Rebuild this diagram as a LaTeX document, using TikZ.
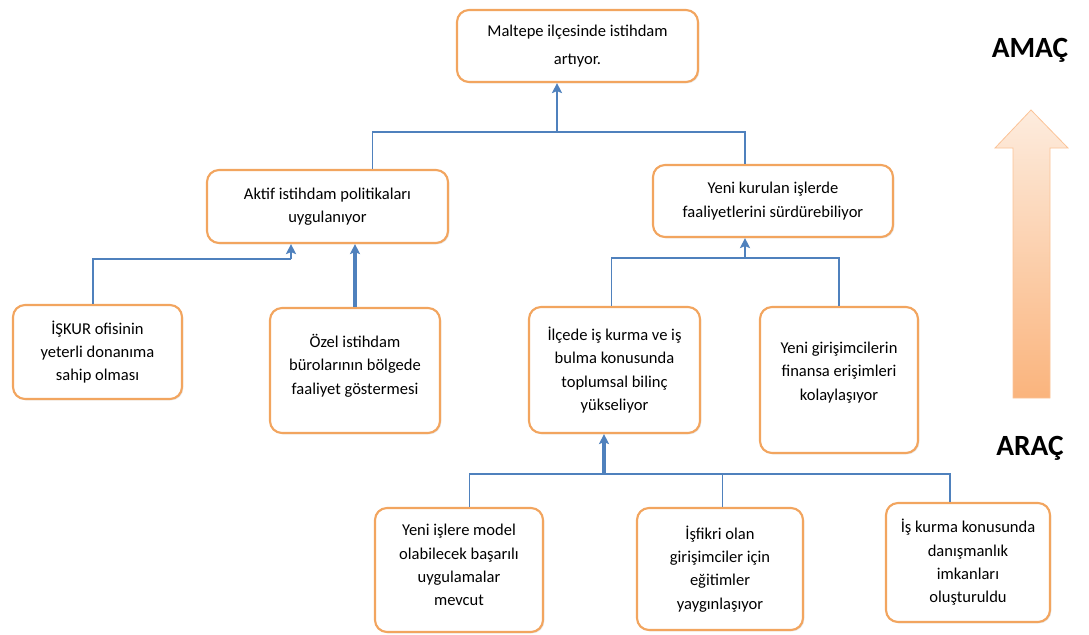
\documentclass[tikz,border=0pt]{standalone}
\usepackage{fontspec}
\setmainfont{Carlito}
\usetikzlibrary{arrows.meta,shadows}
\definecolor{boxorange}{RGB}{242,165,95}
\definecolor{linkblue}{RGB}{79,129,189}
\definecolor{arrowpeach}{RGB}{253,236,222}
\definecolor{arroworange}{RGB}{250,180,125}
\begin{document}
\begin{tikzpicture}[x=0.75pt,y=-0.75pt,
box/.style={draw=boxorange,line width=1.6pt,rounded corners=9pt,fill=white,align=center,
  font=\fontsize{12.4}{17.5}\selectfont,inner sep=2pt,
  drop shadow={opacity=0.18,shadow xshift=1pt,shadow yshift=-1pt}},
link/.style={draw=linkblue,line width=0.9pt},
up/.style={draw=linkblue,line width=1.6pt,-{Stealth[length=7.5pt,width=7.5pt,inset=1.5pt]}},
upthick/.style={up,line width=2.4pt},
side/.style={font=\fontsize{22}{26}\selectfont\bfseries}]
\useasboundingbox (0,0) rectangle (1089,635);
\node[box,minimum width=180.75pt,minimum height=54pt] (goal) at (577.5,46) {Maltepe ilçesinde istihdam\\[3pt]artıyor.};
\node[box,minimum width=180.75pt,minimum height=54.75pt] (aktif) at (327.5,206.5) {Aktif istihdam politikaları\\uygulanıyor};
\node[box,minimum width=180pt,minimum height=54pt] (yenikur) at (773,201) {Yeni kurulan işlerde\\faaliyetlerini sürdürebiliyor};
\node[box,minimum width=126.75pt,minimum height=70.5pt] (iskur) at (97.5,352) {İŞKUR ofisinin\\yeterli donanıma\\sahip olması};
\node[box,minimum width=127.5pt,minimum height=93.75pt] (ozel) at (355,370.5) {Özel istihdam\\bürolarının bölgede\\faaliyet göstermesi\\[-8pt]};
\node[box,minimum width=128.25pt,minimum height=94.5pt] (ilcede) at (614.5,370) {İlçede iş kurma ve iş\\bulma konusunda\\toplumsal bilinç\\yükseliyor};
\node[box,minimum width=118.5pt,minimum height=109.5pt] (girisim) at (839,380) {Yeni girişimcilerin\\finansa erişimleri\\kolaylaşıyor\\[-4pt]};
\node[box,minimum width=126pt,minimum height=93pt] (model) at (459,570) {Yeni işlere model\\olabilecek başarılı\\uygulamalar\\mevcut\\[-10pt]};
\node[box,minimum width=124.5pt,minimum height=91.5pt] (fikir) at (720,569) {İşfikri olan\\girişimciler için\\eğitimler\\yaygınlaşıyor};
\node[box,minimum width=123pt,minimum height=89.25pt] (danis) at (968,562.5) {İş kurma konusunda\\danışmanlık\\imkanları\\oluşturuldu};
\coordinate (j1) at (557,132);
\coordinate (j2) at (291,259);
\coordinate (j3) at (745,258);
\coordinate (j4) at (604,474);
\draw[link] ([xshift=34pt]aktif.north) |- (j1) -| ([xshift=-21pt]yenikur.north);
\draw[up] (j1) -- (goal.south -| j1);
\draw[link] ([xshift=-3.4pt]iskur.north) |- (j2);
\draw[up] (j2) -- (aktif.south -| j2);
\draw[upthick] (ozel.north) -- (aktif.south -| ozel.north);
\draw[link] ([xshift=-2pt]ilcede.north) |- (j3) -| (girisim.north);
\draw[up] (j3) -- (yenikur.south -| j3);
\draw[link] ([xshift=8pt]model.north) |- (j4) -| ([xshift=-13.5pt]danis.north);
\draw[link] ([xshift=2pt]fikir.north) -- ([xshift=2pt]fikir.north |- j4);
\draw[upthick] (j4) -- (ilcede.south -| j4);
\shade[top color=arrowpeach,bottom color=arroworange,draw=arroworange!80!white,line width=0.6pt]
  (1031,110) -- (1068,148) -- (1050,148) -- (1050,398) -- (1013,398) -- (1013,148) -- (995,148) -- cycle;
\node[side] (amac) at (1030,50) {AMAÇ};
\node[side] (arac) at (1030,448) {ARAÇ};
\end{tikzpicture}
\end{document}
